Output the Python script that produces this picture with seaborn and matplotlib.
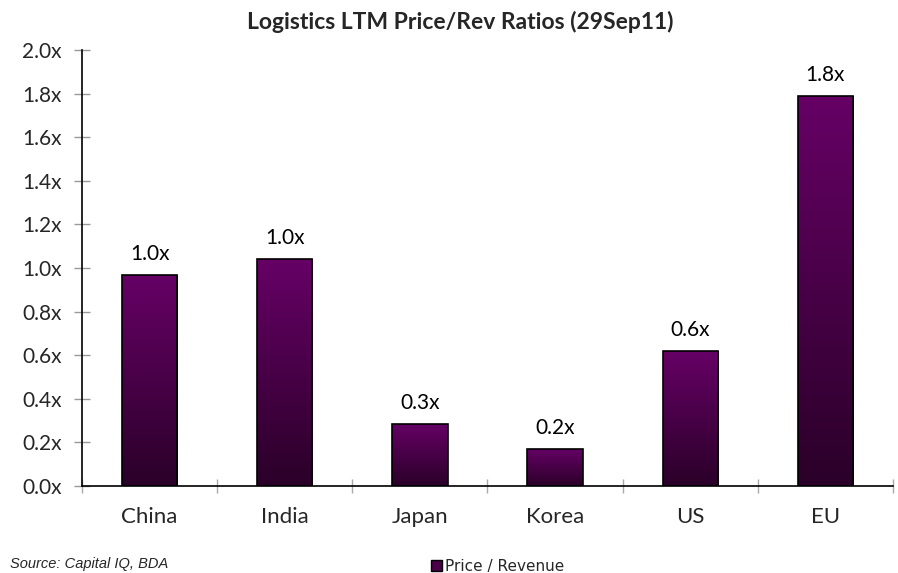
import numpy as np
import pandas as pd
import matplotlib
matplotlib.use("Agg")
import matplotlib.pyplot as plt
import seaborn as sns
from matplotlib.colors import LinearSegmentedColormap
from matplotlib.patches import Patch

categories = ["China", "India", "Japan", "Korea", "US", "EU"]
values = [0.97, 1.04, 0.285, 0.17, 0.62, 1.79]
value_labels = ["1.0x", "1.0x", "0.3x", "0.2x", "0.6x", "1.8x"]
y_ticks = [0.0, 0.2, 0.4, 0.6, 0.8, 1.0, 1.2, 1.4, 1.6, 1.8, 2.0]
y_tick_labels = ["0.0x", "0.2x", "0.4x", "0.6x", "0.8x", "1.0x", "1.2x", "1.4x", "1.6x", "1.8x", "2.0x"]
series_name = "Price / Revenue"

sns.set_style("white")
plt.rcParams["font.family"] = ["Lato", "DejaVu Sans"]

df = pd.DataFrame({"cat": categories, "val": values})

fig = plt.figure(figsize=(8.98, 5.73), dpi=100)
ax = fig.add_axes([0.0913, 0.1518, 0.9944 - 0.0913, 0.9127 - 0.1518])

sns.barplot(data=df, x="cat", y="val", ax=ax, width=0.41, color="#660066",
            edgecolor="black", linewidth=1.2, saturation=1)

cmap = LinearSegmentedColormap.from_list("g", ["#2a0028", "#660066"])
grad = np.linspace(0, 1, 256).reshape(-1, 1)
for p in ax.patches:
    x0, y0 = p.get_x(), p.get_y()
    w, h = p.get_width(), p.get_height()
    im = ax.imshow(grad, extent=[x0, x0 + w, y0, y0 + h], origin="lower",
                   cmap=cmap, aspect="auto", zorder=p.get_zorder() - 0.1)
    im.set_clip_path(p)
    p.set_facecolor("none")
    p.set_zorder(3)

for i, (v, lab) in enumerate(zip(values, value_labels)):
    ax.text(i, v + 0.05, lab, ha="center", va="bottom", fontsize=15, color="black")

ax.set_xlim(-0.5, len(categories) - 0.5)
ax.set_ylim(0, 2.0)
ax.set_yticks(y_ticks)
ax.set_yticklabels(y_tick_labels, fontsize=15)
ax.set_xticks(range(len(categories)))
ax.set_xticklabels(categories, fontsize=16)
ax.set_xticks(np.arange(-0.5, len(categories)), minor=True)
ax.tick_params(axis="x", which="major", bottom=True, length=0, pad=15)
ax.tick_params(axis="x", which="minor", bottom=True, length=10, direction="inout", color="#aaaaaa", width=1)
ax.tick_params(axis="y", which="major", left=True, length=11, direction="inout", color="#999999", width=1, pad=9)
ax.set_xlabel("")
ax.set_ylabel("")

for s in ["top", "right"]:
    ax.spines[s].set_visible(False)
for s in ["left", "bottom"]:
    ax.spines[s].set_color("black")
    ax.spines[s].set_linewidth(1.2)

fig.text(0.513, 0.962, "Logistics LTM Price/Rev Ratios (29Sep11)", ha="center", va="center",
         fontsize=16.5, fontweight="bold")
fig.text(0.011, 0.004, "Source: Capital IQ, BDA", ha="left", va="bottom", fontsize=10.5,
         style="italic", family="Liberation Sans")

handle = Patch(facecolor="#4a0048", edgecolor="black", label=series_name)
fig.legend(handles=[handle], loc="lower center", bbox_to_anchor=(0.554, -0.025), frameon=False,
           handlelength=0.7, handleheight=0.7, handletextpad=0.2,
           prop={"family": "DejaVu Sans", "size": 11})

fig.savefig("out.png", dpi=100)
